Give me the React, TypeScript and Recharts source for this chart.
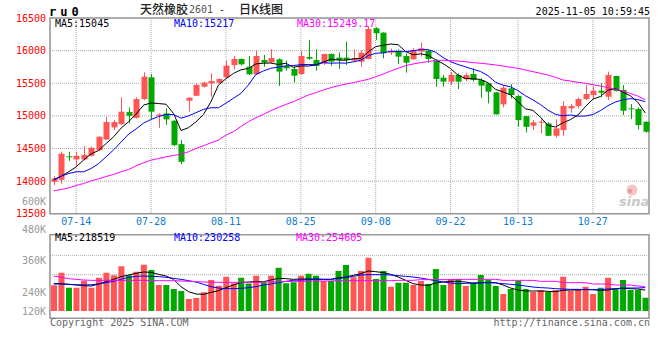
import { ComposedChart, Bar, Line, XAxis, YAxis, CartesianGrid, ReferenceArea, Cell } from "recharts";

const FONT = '"DejaVu Sans Mono", "Liberation Mono", monospace';
const CJK = '"Noto Sans CJK SC", sans-serif';
const RED = "#ff5555";
const GREEN = "#00a800";

const dates = [
  "07-09", "07-10", "07-11", "07-14", "07-15", "07-16", "07-17", "07-18", "07-21", "07-22",
  "07-23", "07-24", "07-25", "07-28", "07-29", "07-30", "07-31", "08-01", "08-04", "08-05",
  "08-06", "08-07", "08-08", "08-11", "08-12", "08-13", "08-14", "08-15", "08-18", "08-19",
  "08-20", "08-21", "08-22", "08-25", "08-26", "08-27", "08-28", "08-29", "09-01", "09-02",
  "09-03", "09-04", "09-05", "09-08", "09-09", "09-10", "09-11", "09-12", "09-15", "09-16",
  "09-17", "09-18", "09-19", "09-22", "09-23", "09-24", "09-25", "09-26", "09-29", "09-30",
  "10-09", "10-10", "10-13", "10-14", "10-15", "10-16", "10-17", "10-20", "10-21", "10-22",
  "10-23", "10-24", "10-27", "10-28", "10-29", "10-30", "10-31", "11-03", "11-04", "11-05",
];

const open = [
  13990, 14020, 14380, 14332, 14332, 14388, 14475, 14639, 14823, 14874,
  15058, 14971, 15258, 15591, 15002, 15038, 14925, 14567, 15232, 15309,
  15447, 15499, 15509, 15591, 15780, 15872, 15754, 15637, 15857, 15821,
  15867, 15765, 15719, 15642, 15903, 15857, 15806, 15949, 15893, 15893,
  15847, 15831, 15872, 16343, 16276, 15969, 16000, 15918, 15867, 15985,
  16000, 15846, 15586, 15524, 15627, 15560, 15642, 15550, 15499, 15360,
  15176, 15422, 15304, 14997, 14849, 14895, 14884, 14695, 14782, 15115,
  15151, 15258, 15319, 15386, 15294, 15611, 15396, 15115, 15105, 14910,
];
const high = [
  14070, 14450, 14450, 14450, 14537, 14526, 14690, 14987, 14936, 15284,
  15130, 15284, 15667, 15642, 15038, 15115, 14935, 14629, 15284, 15499,
  15524, 15652, 15575, 15846, 15918, 15880, 15918, 16000, 15933, 16020,
  15882, 15846, 15754, 16000, 16164, 16020, 15949, 15955, 15974, 16138,
  16020, 16000, 16368, 16358, 16280, 16030, 16020, 15959, 16036, 16123,
  16010, 15872, 15627, 15678, 15652, 15662, 15729, 15575, 15505, 15365,
  15458, 15488, 15319, 15000, 14936, 14946, 14900, 14946, 15227, 15181,
  15284, 15473, 15447, 15499, 15678, 15615, 15473, 15181, 15130, 14915,
];
const low = [
  13940, 13960, 14310, 14235, 14320, 14373, 14465, 14629, 14782, 14859,
  14884, 14961, 15243, 14951, 14818, 14864, 14537, 14260, 15064, 15304,
  15437, 15294, 15499, 15575, 15713, 15775, 15627, 15627, 15754, 15806,
  15458, 15693, 15509, 15627, 15857, 15693, 15780, 15765, 15719, 15780,
  15831, 15754, 15865, 16164, 15882, 15933, 15790, 15662, 15857, 15908,
  15816, 15447, 15447, 15473, 15412, 15534, 15524, 15278, 15192, 15020,
  15130, 15268, 14833, 14746, 14782, 14731, 14690, 14670, 14695, 15048,
  15115, 15243, 15268, 15284, 15243, 15375, 15012, 14951, 14792, 14741,
];
const close = [
  14040, 14420, 14370, 14388, 14400, 14511, 14680, 14905, 14905, 15064,
  15002, 15258, 15601, 15064, 15022, 14946, 14552, 14296, 15279, 15473,
  15509, 15534, 15565, 15770, 15872, 15790, 15637, 15918, 15816, 15887,
  15678, 15729, 15616, 15918, 15877, 15765, 15949, 15831, 15857, 15857,
  15882, 15969, 16333, 16266, 15959, 15985, 15908, 15816, 16010, 16036,
  15872, 15565, 15524, 15627, 15524, 15626, 15550, 15463, 15371, 15023,
  15432, 15319, 14936, 14833, 14900, 14910, 14695, 14808, 15151, 15151,
  15258, 15335, 15386, 15355, 15626, 15381, 15079, 15100, 14859, 14757,
];

const ma5 = [
  14025, 14076, 14143, 14219, 14324, 14418, 14470, 14577, 14680, 14813,
  14911, 15027, 15166, 15198, 15189, 15178, 15037, 14776, 14819, 14909,
  15022, 15218, 15472, 15570, 15650, 15706, 15727, 15797, 15807, 15810,
  15787, 15806, 15745, 15766, 15764, 15781, 15825, 15868, 15856, 15852,
  15875, 15879, 15980, 16061, 16082, 16102, 16090, 15987, 15936, 15951,
  15928, 15860, 15801, 15725, 15622, 15573, 15570, 15558, 15507, 15407,
  15368, 15322, 15216, 15109, 15084, 14980, 14855, 14829, 14893, 14943,
  15013, 15141, 15256, 15297, 15392, 15417, 15365, 15308, 15209, 15045,
];
const ma10 = [
  14015, 14076, 14117, 14143, 14143, 14194, 14270, 14373, 14480, 14600,
  14720, 14800, 14890, 14945, 14990, 15020, 15020, 14965, 15000, 15049,
  15100, 15125, 15124, 15195, 15270, 15345, 15473, 15635, 15688, 15730,
  15747, 15766, 15771, 15786, 15787, 15784, 15815, 15807, 15811, 15808,
  15828, 15852, 15924, 15959, 15967, 15989, 15985, 15983, 15999, 16016,
  16015, 15975, 15894, 15830, 15787, 15751, 15715, 15680, 15616, 15515,
  15471, 15446, 15387, 15308, 15245, 15174, 15088, 15023, 15001, 15014,
  14996, 14998, 15020, 15080, 15155, 15212, 15245, 15265, 15250, 15217,
];
const ma30 = [
  13851, 13871, 13897, 13933, 13963, 14004, 14035, 14071, 14102, 14143,
  14178, 14235, 14281, 14322, 14347, 14373, 14393, 14414, 14450, 14501,
  14542, 14588, 14629, 14705, 14757, 14838, 14910, 14972, 15023, 15079,
  15130, 15176, 15217, 15268, 15319, 15355, 15396, 15432, 15463, 15488,
  15509, 15534, 15560, 15601, 15642, 15688, 15729, 15770, 15795, 15816,
  15831, 15852, 15852, 15846, 15841, 15831, 15816, 15806, 15795, 15780,
  15765, 15744, 15729, 15703, 15678, 15652, 15626, 15591, 15550, 15534,
  15514, 15499, 15478, 15458, 15432, 15406, 15381, 15345, 15304, 15249,
];

const volume = [
  241300, 300700, 230000, 230000, 263000, 230000, 277000, 300700, 288400, 330900,
  288400, 305400, 338400, 313400, 242700, 242700, 223800, 214400, 176600, 181300,
  208100, 266300, 239500, 281800, 250500, 277100, 250000, 286700, 255400, 286700,
  324300, 250500, 255400, 286700, 296000, 286700, 261500, 261500, 308700, 337000,
  278800, 308700, 371600, 271000, 308700, 234800, 253700, 253700, 242700, 261500,
  247400, 318200, 242700, 271000, 271000, 238000, 253700, 289800, 266300, 238000,
  200200, 223800, 263100, 223800, 209600, 219100, 209600, 219100, 282000, 215900,
  222200, 234800, 200200, 230100, 277300, 223800, 266300, 219100, 219100, 182900,
];
const volMa5 = [
  250500, 248900, 245800, 242700, 239500, 238000, 247400, 258400, 269400, 282000,
  289800, 297700, 304000, 302400, 293000, 285100, 269400, 234800, 211200, 200200,
  198600, 208100, 215900, 230100, 242700, 253700, 256900, 258400, 258400, 266300,
  274100, 272600, 269400, 271000, 271000, 271000, 269400, 269400, 277300, 280400,
  288300, 296100, 308700, 305600, 300900, 293000, 280400, 264700, 249000, 242700,
  241100, 252100, 256900, 260000, 260000, 256900, 250500, 252100, 255300, 253700,
  242700, 228500, 219100, 214400, 214400, 214400, 212800, 211200, 217500, 219100,
  219100, 222200, 220600, 217500, 219100, 225400, 227000, 225400, 223800, 218519,
];
const volMa10 = [
  247400, 247400, 245800, 244200, 242700, 244200, 247400, 253700, 260000, 269400,
  278800, 283500, 285100, 283500, 282000, 278800, 274100, 269400, 263100, 256900,
  245800, 234800, 228500, 225400, 225400, 226900, 230100, 234800, 242700, 247400,
  253700, 260000, 264700, 266300, 267900, 269400, 269400, 269400, 272600, 277300,
  283500, 289800, 291400, 291400, 291400, 289800, 286700, 283500, 280400, 275700,
  269400, 263100, 256900, 252100, 249000, 250500, 252100, 253700, 253700, 252100,
  249000, 245800, 242700, 238000, 233200, 230100, 228500, 225400, 223800, 222200,
  222200, 220600, 220600, 220600, 223800, 225400, 228500, 228500, 228500, 230258,
];
const volMa30 = [
  285100, 278800, 272600, 269400, 266300, 264700, 264700, 264700, 264700, 264700,
  264700, 264700, 264700, 263100, 263100, 263100, 263100, 261500, 260000, 258400,
  257000, 256000, 255400, 255400, 255400, 255400, 255400, 255400, 256000, 257000,
  258400, 259000, 260000, 260000, 260000, 261500, 261500, 262000, 263100, 263100,
  263100, 263100, 263100, 263100, 263100, 263100, 264700, 264700, 264700, 267900,
  267900, 267900, 267900, 267900, 269400, 269400, 269400, 269400, 269400, 269400,
  264700, 264700, 264700, 264700, 264700, 260000, 260000, 260000, 253700, 253700,
  253700, 253700, 247400, 247400, 247400, 242700, 242700, 242700, 238000, 234800,
];

const dateTicks = ["07-14", "07-28", "08-11", "08-25", "09-08", "09-22", "10-13", "10-27"];
const priceTicks = [13500, 14000, 14500, 15000, 15500, 16000, 16500];
const volumeTicks = [120000, 240000, 360000, 480000];
// sina draws volume bars up from the 120K label, frame runs a bit lower
const VOL_BASE = 120000;
const VOL_MIN = 85600;
const VOL_MAX = 480000;

const rows = dates.map((date, i) => ({
  date,
  open: open[i],
  high: high[i],
  low: low[i],
  close: close[i],
  ma5: ma5[i],
  ma10: ma10[i],
  ma30: ma30[i],
  volume: volume[i],
  volMa5: volMa5[i],
  volMa10: volMa10[i],
  volMa30: volMa30[i],
  up: close[i] >= open[i],
}));

function Candle(props: any) {
  const { x, y, width, height, payload } = props;
  const { open: o, close: c, high: h, low: l, up } = payload;
  const color = up ? RED : GREEN;
  const top = Math.min(y, y + height);
  const span = Math.abs(height);
  const k = span / (h - l);
  const yOf = (v: number) => top + (h - v) * k;
  const bodyTop = yOf(Math.max(o, c));
  const bodyBottom = yOf(Math.min(o, c));
  const cx = Math.round(x + width / 2) + 0.5;
  return (
    <g>
      <line x1={cx} x2={cx} y1={top} y2={top + span} stroke={color} strokeWidth={1} />
      <rect x={cx - 3} y={bodyTop} width={6} height={Math.max(1, bodyBottom - bodyTop)} fill={color} />
    </g>
  );
}

// sina's volume labels sit a little off their values
const volLabelNudge: Record<number, number> = { 480000: -5.5, 240000: 6.5 };

function VolTick(props: any) {
  const { x, y, payload } = props;
  const dy = volLabelNudge[payload.value] ?? 0;
  return (
    <text x={x} y={y + dy} dy="0.355em" textAnchor="end" fill="#999" style={{ fontFamily: FONT, fontSize: 10 }}>
      {`${payload.value / 1000}K`}
    </text>
  );
}

const line = (key: string, color: string) => (
  <Line
    type="linear"
    dataKey={key}
    stroke={color}
    strokeWidth={1}
    dot={false}
    activeDot={false}
    isAnimationActive={false}
  />
);

function Overlay() {
  const mono = { fontFamily: FONT, fontSize: 10 };
  return (
    <svg width={660} height={360} style={{ position: "absolute", left: 0, top: 0, pointerEvents: "none" }}>
      <text x={49} y={15.7} style={{ fontFamily: FONT, fontSize: 12, fontWeight: "bold", letterSpacing: 4 }}>ru0</text>
      <text x={140} y={14} style={{ fontFamily: CJK, fontSize: 12, fontWeight: 500 }} fill="#222">天然橡胶</text>
      <text x={189} y={13.4} style={mono} fill="#555">2601</text>
      <text x={219} y={13} style={mono} fill="#222">-</text>
      <text x={239} y={14} style={{ fontFamily: CJK, fontSize: 12, fontWeight: 500 }} fill="#222">日K线图</text>
      <text x={650} y={15} textAnchor="end" style={mono} fill="#000">2025-11-05 10:59:45</text>

      <text x={55} y={27.3} style={mono} fill="#000">MA5:15045</text>
      <text x={174} y={27.3} style={mono} fill="#0000ff">MA10:15217</text>
      <text x={297} y={27.3} style={mono} fill="#ff00ff">MA30:15249.17</text>

      <text x={46} y={205} textAnchor="end" style={mono} fill="#999">600K</text>

      <text x={55} y={241.3} style={mono} fill="#000">MA5:218519</text>
      <text x={174} y={241.3} style={mono} fill="#0000ff">MA10:230258</text>
      <text x={296} y={241.3} style={mono} fill="#ff00ff">MA30:254605</text>

      <text x={50} y={326} style={mono} fill="#666">Copyright 2025 SINA.COM</text>
      <text x={650} y={326} textAnchor="end" style={mono} fill="#666">http://finance.sina.com.cn</text>

      <circle cx={632} cy={190} r={5.5} fill="#f4c4c4" />
      <circle cx={630} cy={191} r={2.2} fill="#e89a9a" />
      <text x={619} y={206} style={{ fontFamily: "DejaVu Sans", fontSize: 13, fontStyle: "italic", fontWeight: "bold" }} fill="#c8c8c8">sina</text>
    </svg>
  );
}

export default function App() {
  return (
    <div style={{ position: "fixed", left: 0, top: 0, width: 660, height: 360, background: "#fff" }}>
      <div style={{ position: "absolute", left: 0, top: 0 }}>
        <ComposedChart width={660} height={232} data={rows} margin={{ top: 18, right: 11, bottom: 0, left: 0 }}>
          <CartesianGrid stroke="#aaa" strokeDasharray="1 1" />
          <XAxis
            dataKey="date"
            ticks={dateTicks}
            interval={0}
            height={18.25}
            tickSize={0}
            tickMargin={4.5}
            axisLine={false}
            tickLine={false}
            tick={{ fill: "#0f7cd0", fontSize: 10, fontFamily: FONT }}
          />
          <YAxis
            domain={[13500, 16500]}
            ticks={priceTicks}
            interval={0}
            allowDataOverflow
            width={50}
            tickSize={2}
            tickMargin={2}
            axisLine={false}
            tickLine={false}
            tick={{ fill: "#ff0000", fontSize: 10, fontFamily: FONT }}
          />
          <ReferenceArea y1={13500} y2={16500} fill="none" stroke="#999" strokeWidth={1.5} />
          <Bar
            dataKey={(d: any) => [d.low, d.high]}
            barSize={6}
            shape={(p: any) => <Candle {...p} />}
            isAnimationActive={false}
          />
          {line("ma5", "#000000")}
          {line("ma10", "#0000ff")}
          {line("ma30", "#ff00ff")}
        </ComposedChart>
      </div>

      <div style={{ position: "absolute", left: 0, top: 224 }}>
        <ComposedChart width={660} height={100} data={rows} margin={{ top: 10.7, right: 11, bottom: 5.7, left: 0 }}>
          <CartesianGrid stroke="#aaa" strokeDasharray="1 1" horizontalPoints={[31.3, 50.7]} />
          <XAxis
            dataKey="date"
            ticks={dateTicks}
            interval={0}
            height={0}
            tick={false}
            axisLine={false}
            tickLine={false}
          />
          <YAxis
            domain={[VOL_MIN, VOL_MAX]}
            ticks={volumeTicks}
            interval={0}
            allowDataOverflow
            width={50}
            tickSize={2}
            tickMargin={2}
            axisLine={false}
            tickLine={false}
            tick={(p: any) => <VolTick {...p} />}
          />
          <ReferenceArea y1={VOL_MIN} y2={VOL_MAX} fill="none" stroke="#999" strokeWidth={1.5} />
          <Bar dataKey={(d: any) => [VOL_BASE, d.volume]} barSize={6} isAnimationActive={false}>
            {rows.map((r) => (
              <Cell key={r.date} fill={r.up ? RED : GREEN} />
            ))}
          </Bar>
          {line("volMa5", "#000000")}
          {line("volMa10", "#0000ff")}
          {line("volMa30", "#ff00ff")}
        </ComposedChart>
      </div>

      <Overlay />
    </div>
  );
}
